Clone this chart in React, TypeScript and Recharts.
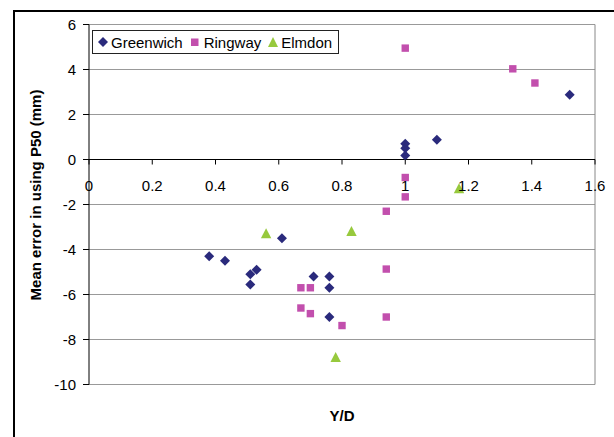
import React from "react";
import {
  ScatterChart,
  Scatter,
  XAxis,
  YAxis,
  CartesianGrid,
  ReferenceLine,
} from "recharts";

// values
const greenwichX = [0.38, 0.43, 0.51, 0.51, 0.53, 0.61, 0.71, 0.76, 0.76, 0.76, 1.0, 1.0, 1.0, 1.1, 1.52];
const greenwichY = [-4.3, -4.5, -5.1, -5.55, -4.9, -3.5, -5.2, -5.2, -5.7, -7.0, 0.7, 0.5, 0.18, 0.88, 2.88];

const ringwayX = [0.67, 0.7, 0.67, 0.7, 0.8, 0.94, 0.94, 0.94, 1.0, 1.0, 1.0, 1.34, 1.41];
const ringwayY = [-5.7, -5.7, -6.6, -6.85, -7.38, -2.3, -4.87, -7.0, 4.95, -0.8, -1.66, 4.03, 3.4];

const elmdonX = [0.56, 0.83, 0.78, 1.17];
const elmdonY = [-3.3, -3.2, -8.8, -1.3];

const xTicks = [0, 0.2, 0.4, 0.6, 0.8, 1, 1.2, 1.4, 1.6];
const yTicks = [-10, -8, -6, -4, -2, 0, 2, 4, 6];

const NAVY = "#2A2A7C";
const PINK = "#C24FAD";
const GREEN = "#97C93D";
const FONT = "'Liberation Sans', Arial, sans-serif";

const toPoints = (xs: number[], ys: number[]) => xs.map((x, i) => ({ x, y: ys[i] }));

const greenwich = toPoints(greenwichX, greenwichY);
const ringway = toPoints(ringwayX, ringwayY);
const elmdon = toPoints(elmdonX, elmdonY);

const W = 614;
const H = 437;
const X_AXIS_H = 30;
const margin = { top: 24.5, right: 19, bottom: 52.5 - X_AXIS_H, left: 29 };
const Y_MIN = -10;
const Y_MAX = 6;
const plotH = H - margin.top - margin.bottom - X_AXIS_H;
const zeroY = margin.top + ((Y_MAX - 0) / (Y_MAX - Y_MIN)) * plotH;

const Diamond = (p: any) => (
  <polygon
    points={`${p.cx},${p.cy - 5} ${p.cx + 5},${p.cy} ${p.cx},${p.cy + 5} ${p.cx - 5},${p.cy}`}
    fill={NAVY}
  />
);
const Square = (p: any) => <rect x={p.cx - 3.7} y={p.cy - 3.7} width={7.4} height={7.4} fill={PINK} />;
const Triangle = (p: any) => (
  <polygon
    points={`${p.cx},${p.cy - 5.5} ${p.cx + 5.2},${p.cy + 4.5} ${p.cx - 5.2},${p.cy + 4.5}`}
    fill={GREEN}
  />
);

// x axis drawn through y = 0, like the original
const XTick = (p: any) => (
  <g>
    <line x1={p.x} x2={p.x} y1={zeroY} y2={zeroY + 5} stroke="#000" />
    <text x={p.x} y={zeroY + 31.5} textAnchor="middle" fill="#000" fontSize={15} fontFamily={FONT}>
      {p.payload.value}
    </text>
  </g>
);

function LegendBox() {
  const item = { display: "flex", alignItems: "center", marginRight: 6 } as const;
  return (
    <div
      style={{
        position: "absolute",
        left: 92,
        top: 30,
        height: 22,
        border: "1px solid #222",
        background: "#fff",
        display: "flex",
        alignItems: "center",
        paddingLeft: 4,
        fontSize: 15,
        fontFamily: FONT,
      }}
    >
      <span style={item}>
        <svg width={12} height={12} style={{ marginRight: 2 }}>
          <polygon points="6,1 11,6 6,11 1,6" fill={NAVY} />
        </svg>
        Greenwich
      </span>
      <span style={item}>
        <svg width={12} height={12} style={{ marginRight: 3 }}>
          <rect x={2} y={2.5} width={7.5} height={7.5} fill={PINK} />
        </svg>
        Ringway
      </span>
      <span style={item}>
        <svg width={12} height={12} style={{ marginRight: 2 }}>
          <polygon points="6,1 11,11 1,11" fill={GREEN} />
        </svg>
        Elmdon
      </span>
    </div>
  );
}

export default function App() {
  return (
    <div
      style={{
        position: "fixed",
        left: 0,
        top: 0,
        width: W,
        height: H,
        overflow: "hidden",
        fontFamily: FONT,
        fontSize: 15,
        background: "#fff",
      }}
    >
      <div
        style={{
          position: "absolute",
          left: 13,
          top: 10,
          right: -20,
          bottom: -20,
          borderTop: "2px solid #000",
          borderLeft: "2px solid #000",
        }}
      />
      <ScatterChart width={W} height={H} margin={margin} style={{ position: "absolute", left: 0, top: 0 }}>
        <CartesianGrid vertical={false} stroke="#999" />
        <XAxis
          type="number"
          dataKey="x"
          domain={[0, 1.6]}
          ticks={xTicks}
          interval={0}
          height={X_AXIS_H}
          axisLine={false}
          tickLine={false}
          tick={<XTick />}
        />
        <YAxis
          type="number"
          dataKey="y"
          domain={[Y_MIN, Y_MAX]}
          ticks={yTicks}
          interval={0}
          width={60}
          stroke="#000"
          tickSize={6}
          tickMargin={7}
          tick={{ fill: "#000", fontSize: 15, fontFamily: FONT }}
        />
        <ReferenceLine x={1.6} stroke="#888" />
        <ReferenceLine y={0} stroke="#000" />
        <Scatter data={greenwich} shape={<Diamond />} isAnimationActive={false} />
        <Scatter data={ringway} shape={<Square />} isAnimationActive={false} />
        <Scatter data={elmdon} shape={<Triangle />} isAnimationActive={false} />
      </ScatterChart>
      <LegendBox />
      <div
        style={{
          position: "absolute",
          left: 35,
          top: 195,
          transform: "translate(-50%, -50%) rotate(-90deg)",
          whiteSpace: "nowrap",
          fontWeight: "bold",
          fontSize: 15,
        }}
      >
        Mean error in using P50 (mm)
      </div>
      <div
        style={{
          position: "absolute",
          left: 342,
          top: 415,
          transform: "translate(-50%, -50%)",
          fontWeight: "bold",
          fontSize: 15,
        }}
      >
        Y/D
      </div>
    </div>
  );
}
